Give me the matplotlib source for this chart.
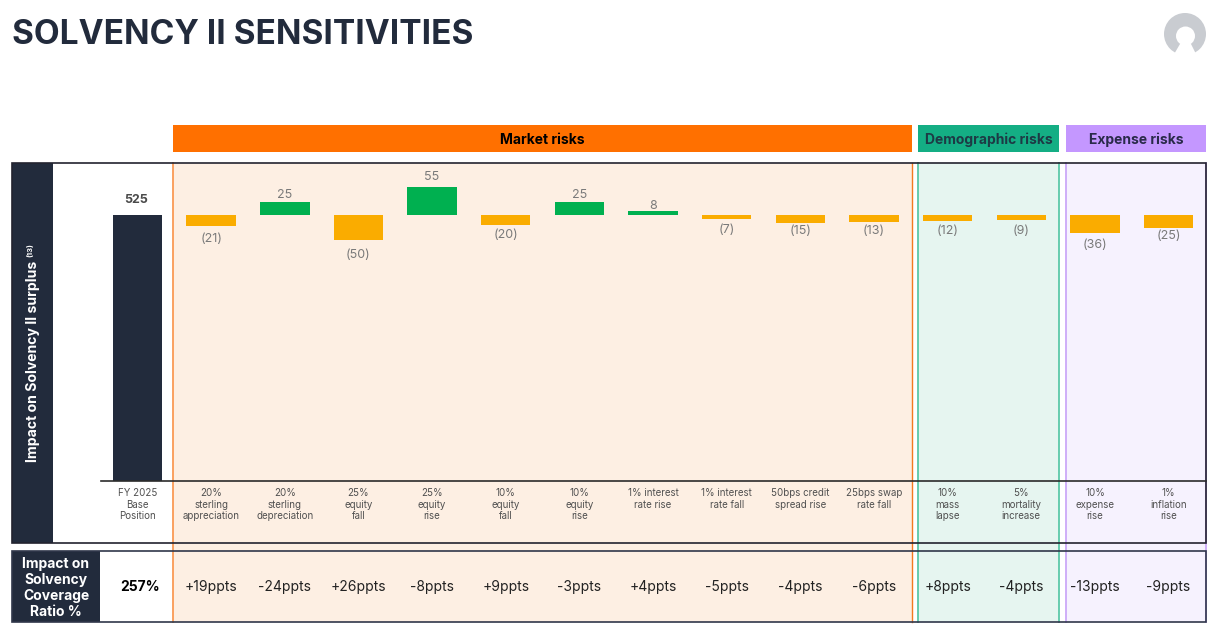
import matplotlib
matplotlib.use("Agg")
import matplotlib.pyplot as plt
from matplotlib.patches import Rectangle, Circle, Polygon

W, H = 1229, 634
plt.rcParams['font.family'] = ['Inter', 'DejaVu Sans']

# data
base_value = 525
base_label = "FY 2025\nBase\nPosition"
base_ratio = "257%"
scenarios = ["20%\nsterling\nappreciation", "20%\nsterling\ndepreciation", "25%\nequity\nfall",
             "25%\nequity\nrise", "10%\nequity\nfall", "10%\nequity\nrise",
             "1% interest\nrate rise", "1% interest\nrate fall", "50bps credit\nspread rise",
             "25bps swap\nrate fall", "10%\nmass\nlapse", "5%\nmortality\nincrease",
             "10%\nexpense\nrise", "1%\ninflation\nrise"]
impacts = [-21, 25, -50, 55, -20, 25, 8, -7, -15, -13, -12, -9, -36, -25]
ratio_changes = ["+19ppts", "-24ppts", "+26ppts", "-8ppts", "+9ppts", "-3ppts", "+4ppts",
                 "-5ppts", "-4ppts", "-6ppts", "+8ppts", "-4ppts", "-13ppts", "-9ppts"]

# small label shifts per bar, px downwards
label_nudge = [3, 2, 5, -1, 0, 2, 4, 1, -2, -1, 0, 1, 2, -2]

DARK = '#222b3c'
GREEN = '#00b050'
AMBER = '#faac00'
GREY = '#7a7a7a'

# name, x0, x1, header colour, tint, left edge, right edge, text colour
groups = [("Market risks", 173, 912, '#ff7000', '#fdefe3', '#fa9a55', '#f47a20', '#000000'),
          ("Demographic risks", 918, 1059, '#14ae84', '#e6f5f0', '#5cc8a8', '#5cc8a8', '#1d3a45'),
          ("Expense risks", 1066, 1206, '#c497ff', '#f6f2fe', '#cba8f8', '#cba8f8', '#2a2a4a')]

fig = plt.figure(figsize=(W / 100, H / 100), dpi=100, facecolor='white')

# page layer, in pixels
bg = fig.add_axes([0, 0, 1, 1])
bg.set_xlim(0, W)
bg.set_ylim(H, 0)
bg.axis('off')

bg.text(12, 35, "SOLVENCY II SENSITIVITIES", fontsize=24.1, fontweight='bold', color=DARK,
        ha='left', va='center')

# avatar
bg.add_patch(Circle((1185, 34), 21, fc='#c9ccd1', ec='none'))
bg.add_patch(Polygon([(1180, 44), (1191, 44), (1197, 56), (1173, 56)], fc='white', ec='none'))
bg.add_patch(Circle((1185.5, 36), 9.5, fc='white', ec='none'))

for name, x0, x1, head, tint, left, right, tc in groups:
    bg.add_patch(Rectangle((x0, 125), x1 - x0, 27, fc=head, ec='none'))
    bg.text((x0 + x1) / 2, 139.5, name, fontsize=10, fontweight='bold', color=tc,
            ha='center', va='center')
    bg.add_patch(Rectangle((x0, 163), x1 - x0, 459, fc=tint, ec='none'))
    bg.plot([x0, x0], [163, 622], color=left, lw=1.3)
    bg.plot([x1, x1], [163, 622], color=right, lw=1.0 if x0 == 173 else 1.3)

bg.add_patch(Rectangle((12, 163), 41, 380, fc=DARK, ec='none'))
bg.add_patch(Rectangle((12, 551), 88, 71, fc=DARK, ec='none'))
bg.add_patch(Rectangle((12, 163), 1194, 380, fc='none', ec='#23232f', lw=1.2, zorder=3))
bg.add_patch(Rectangle((12, 551), 1194, 71, fc='none', ec='#30374a', lw=1.2, zorder=3))

bg.text(33, 462, "Impact on Solvency II surplus", rotation=90, fontsize=10.1, fontweight='bold',
        color='white', ha='center', va='bottom')
bg.text(30, 257, "(13)", rotation=90, fontsize=5.5, fontweight='bold', color='white',
        ha='center', va='bottom')
bg.text(56, 588, "Impact on\nSolvency\nCoverage\nRatio %", fontsize=10, fontweight='bold',
        color='white', ha='center', va='center', linespacing=1.2)

# chart layer: bars on a value scale, x in category positions
x_left, x_right, y_top, y_base = 101, 1206, 163, 481
ax = fig.add_axes([x_left / W, 1 - y_base / H, (x_right - x_left) / W, (y_base - y_top) / H])
ax.patch.set_alpha(0)
slot = 73.65
ax.set_xlim((x_left - 137.5) / slot, (x_right - 137.5) / slot)
ax.set_ylim(0, (y_base - y_top) / (266 / base_value))
for side in ['top', 'left', 'right']:
    ax.spines[side].set_visible(False)
ax.spines['bottom'].set_color('#2b2b2b')
ax.spines['bottom'].set_linewidth(1.2)
ax.set_yticks([])

positions = list(range(len(impacts) + 1))
ax.set_xticks(positions)
ax.set_xticklabels([base_label] + scenarios, fontsize=7, color='#505050', linespacing=1.2, va='top')
ax.tick_params(axis='x', length=0, pad=5)

bar_w = 49.5 / slot
ax.bar(0, base_value, width=bar_w, color=DARK)
ax.annotate(str(base_value), (0, base_value), xytext=(-1, 15), textcoords='offset pixels',
            ha='center', va='center', fontsize=9, fontweight='bold', color='#4a4a4a')

for i, v in enumerate(impacts, start=1):
    ax.bar(i, v, bottom=base_value, width=bar_w, color=GREEN if v > 0 else AMBER)
    label = str(v) if v > 0 else "(%d)" % -v
    gap = 9 if v > 0 else -10
    ax.annotate(label, (i, base_value + v), xytext=(0, gap - label_nudge[i - 1]),
                textcoords='offset pixels', ha='center', va='center', fontsize=9, color=GREY)

# bottom row, sharing the chart's x positions
trans = ax.get_xaxis_transform()
row_y = (y_base - 587) / (y_base - y_top)
ax.text(0.04, row_y, base_ratio, transform=trans, fontsize=10, fontweight='bold', color='black',
        ha='center', va='center', clip_on=False)
for i, s in enumerate(ratio_changes, start=1):
    ax.text(i, row_y, s, transform=trans, fontsize=10, color='#222222',
            ha='center', va='center', clip_on=False)

fig.savefig('out.png', dpi=100)
